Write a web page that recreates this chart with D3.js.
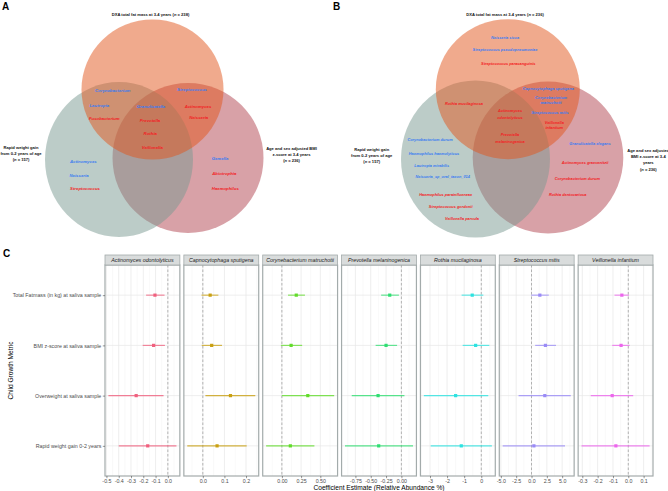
<!DOCTYPE html>
<html><head><meta charset="utf-8">
<script src="https://cdn.jsdelivr.net/npm/d3@7"></script>
<style>
html,body{margin:0;padding:0;background:#fff;}
svg{display:block;font-family:"Liberation Sans",Arial,sans-serif;}
</style></head>
<body><svg id="chart" width="668" height="491"></svg>
<script>
// ---------------- DATA ----------------
const setTitles = ["DXA total fat mass at 3-4 years", "Rapid weight gain|from 0-2 years of age", "Age and sex adjusted BMI|z-score at 3-4 years"];
const setTitlesB = ["DXA total fat mass at 3-4 years", "Rapid weight gain|from 0-2 years of age", "Age and sex adjusted|BMI z-score at 3-4|years"];
const setN_A = [238, 157, 236];
const setN_B = [236, 157, 236];

// Panel A (genus level): [taxon, direction] (-1 = blue, 1 = red)
const vennA_topLeft = [["Corynebacterium", -1], ["Lautropia", -1], ["Fusobacterium", 1]];
const vennA_topRight = [["Streptococcus", -1], ["Actinomyces", 1], ["Neisseria", 1]];
const vennA_center = [["Granulicatella", -1], ["Prevotella", 1], ["Rothia", 1], ["Veillonella", 1]];
const vennA_left = [["Actinomyces", -1], ["Neisseria", -1], ["Streptococcus", 1]];
const vennA_right = [["Gemella", -1], ["Abiotrophia", 1], ["Haemophilus", 1]];

// Panel B (species level)
const vennB_top = [["Neisseria sicca", -1], ["Streptococcus pseudopneumoniae", -1], ["Streptococcus parasanguinis", 1]];
const vennB_topLeft = [["Rothia mucilaginosa", 1]];
const vennB_center = [["Actinomyces|odontolyticus", 1], ["Prevotella|melaninogenica", 1]];
const vennB_topRight = [["Capnocytophaga sputigena", -1], ["Corynebacterium|matruchotii", -1], ["Streptococcus mitis", -1], ["Veillonella|infantium", 1]];
const vennB_left = [["Corynebacterium durum", -1], ["Haemophilus haemolyticus", -1], ["Lautropia mirabilis", -1], ["Neisseria_sp_oral_taxon_014", -1], ["Haemophilus parainfluenzae", 1], ["Streptococcus gordonii", 1], ["Veillonella parvula", 1]];
const vennB_right = [["Granulicatella elegans", -1], ["Actinomyces graevenitzii", 1], ["Corynebacterium durum", 1], ["Rothia dentocariosa", 1]];

// Panel C
const taxa = ["Actinomyces odontolyticus", "Capnocytophaga sputigena", "Corynebacterium matruchotii", "Prevotella melaninogenica", "Rothia mucilaginosa", "Streptococcus mitis", "Veillonella infantium"];
const metrics = ["Total Fatmass (in kg) at saliva sample", "BMI z-score at saliva sample", "Overweight at saliva sample", "Rapid weight gain 0-2 years"];
const estimates = [
  [-0.105, -0.116, -0.258, -0.164],
  [0.034, 0.041, 0.128, 0.066],
  [0.187, 0.12, 0.337, 0.11],
  [-0.19, -0.25, -0.38, -0.37],
  [-0.53, -0.33, -1.5, -1.17],
  [1.36, 2.27, 2.17, 0.39],
  [-0.042, -0.047, -0.105, -0.081]
];
const lowerCI = [
  [-0.177, -0.205, -0.484, -0.40],
  [-0.006, -0.005, 0.012, -0.072],
  [0.08, -0.013, 0.0, -0.205],
  [-0.33, -0.42, -0.81, -0.92],
  [-1.15, -1.09, -3.36, -2.96],
  [-0.05, 0.6, -2.11, -4.7],
  [-0.09, -0.105, -0.245, -0.305]
];
const upperCI = [
  [-0.027, -0.024, -0.035, 0.07],
  [0.072, 0.089, 0.243, 0.203],
  [0.30, 0.264, 0.68, 0.423],
  [-0.04, -0.07, 0.05, 0.19],
  [0.12, 0.47, 0.41, 0.62],
  [2.82, 4.0, 6.4, 5.47],
  [0.005, 0.009, 0.032, 0.139]
];
const xTickLabels = [
  ["-0.5", "-0.4", "-0.3", "-0.2", "-0.1", "0.0"],
  ["0.0", "0.1", "0.2"],
  ["0.00", "0.25", "0.50"],
  ["-0.75", "-0.50", "-0.25", "0.00"],
  ["-3", "-2", "-1", "0"],
  ["-5.0", "-2.5", "0.0", "2.5", "5.0"],
  ["-0.3", "-0.2", "-0.1", "0.0", "0.1"]
];
const taxonColors = ["#F0607E", "#C9A012", "#62DC2A", "#2FDE72", "#2CE2E0", "#9A8BF6", "#EC66EC"];

// ---------------- LAYOUT ----------------
const svg = d3.select("#chart");
const BLUE = "#3B7CF0", RED = "#F21E24";
const dirColor = d => d < 0 ? BLUE : RED;

function panelLetter(t, x, y) {
  svg.append("text").attr("x", x).attr("y", y).text(t)
    .attr("font-size", 10).attr("font-weight", "bold").attr("fill", "#000");
}

function vennCircles(g, circ) {
  const fills = {top: "#E2561C", left: "#7A9A91", right: "#B2434F"};
  ["right", "left", "top"].forEach(k => {
    const c = circ[k];
    g.append("ellipse").attr("cx", c[0]).attr("cy", c[1]).attr("rx", c[2]).attr("ry", c[3])
      .attr("fill", fills[k]).attr("fill-opacity", 0.5);
  });
}

function multiLine(g, text, x, y, lh, opts) {
  const parts = text.split("|");
  const t = g.append("text").attr("x", x).attr("y", y).attr("text-anchor", "middle")
    .attr("font-size", opts.size).attr("font-weight", opts.weight || "normal")
    .attr("font-style", opts.style || "normal").attr("fill", opts.fill || "#000");
  parts.forEach((p, i) => t.append("tspan").attr("x", x).attr("dy", i === 0 ? 0 : lh).text(p));
  return t;
}

function setLabel(g, title, n, x, y, lh, size) {
  const parts = title.split("|");
  const t = g.append("text").attr("x", x).attr("y", y).attr("text-anchor", "middle")
    .attr("font-size", size).attr("font-weight", "bold").attr("fill", "#111");
  if (parts.length === 1) {
    t.append("tspan").text(parts[0] + " (");
    t.append("tspan").attr("font-style", "italic").text("n");
    t.append("tspan").text(" = " + n + ")");
  } else {
    parts.forEach((p, i) => t.append("tspan").attr("x", x).attr("dy", i === 0 ? 0 : lh).text(p));
    t.append("tspan").attr("x", x).attr("dy", lh).text("(");
    t.append("tspan").attr("font-style", "italic").text("n");
    t.append("tspan").text(" = " + n + ")");
  }
}

function placeTaxa(g, list, pos, size, lh) {
  list.forEach((d, i) => {
    multiLine(g, d[0], pos[i][0], pos[i][1], lh, {size: size, weight: "bold", style: "italic", fill: dirColor(d[1])});
  });
}

// ----- Panel A -----
panelLetter("A", 2, 9.5);
const gA = svg.append("g");
vennCircles(gA, {top: [152.5, 89.5, 71, 70], left: [119, 159.5, 74, 77.5], right: [188, 158, 75.5, 75]});
setLabel(gA, setTitles[0], setN_A[0], 150.5, 15.5, 0, 4.1);
setLabel(gA, setTitles[1], setN_A[1], 21, 149.3, 5.7, 4.1);
setLabel(gA, setTitles[2], setN_A[2], 291.5, 149.8, 5.9, 4.1);
const aSize = 4.3;
placeTaxa(gA, vennA_topLeft, [[112.7, 91.5], [99.3, 106.8], [104.3, 119.8]], aSize, 5);
placeTaxa(gA, vennA_topRight, [[192, 90.5], [198, 107.8], [198.7, 119.2]], aSize, 5);
placeTaxa(gA, vennA_center, [[151, 107.8], [150, 121.5], [150.3, 134.8], [152.3, 148.5]], aSize, 5);
placeTaxa(gA, vennA_left, [[83.3, 162.5], [79, 176.5], [85, 189.8]], aSize, 5);
placeTaxa(gA, vennA_right, [[220, 159.8], [224.3, 174.5], [225.3, 189.5]], aSize, 5);

// ----- Panel B -----
panelLetter("B", 333, 9.5);
const gB = svg.append("g");
vennCircles(gB, {top: [507.8, 89.2, 72, 70], left: [475.5, 159, 74.5, 78.5], right: [548, 157.5, 75.3, 76]});
setLabel(gB, setTitlesB[0], setN_B[0], 505, 15.5, 0, 4.1);
setLabel(gB, setTitlesB[1], setN_B[1], 371.7, 150.5, 6.3, 4.1);
setLabel(gB, setTitlesB[2], setN_B[2], 648.3, 152.2, 6.1, 4.1);
const bSize = 3.9;
placeTaxa(gB, vennB_top, [[505, 38.7], [505, 51.4], [508.3, 64.7]], bSize, 5.5);
placeTaxa(gB, vennB_topLeft, [[464, 105.4]], bSize, 5.5);
placeTaxa(gB, vennB_center, [[510, 112.1], [510, 136.4]], bSize, 6.6);
placeTaxa(gB, vennB_topRight, [[548.3, 90.4], [551, 98.7], [550, 114.1], [554.3, 123.7]], bSize, 5.6);
placeTaxa(gB, vennB_left, [[430, 141.4], [434, 154.7], [431.7, 167.1], [442.7, 178.1], [445.7, 196.1], [450.7, 208.4], [462, 220.4]], bSize, 5.5);
placeTaxa(gB, vennB_right, [[590, 145.4], [585, 163.7], [577.3, 180.4], [567.7, 195.7]], bSize, 5.5);

// ----- Panel C -----
panelLetter("C", 3, 256.5);
const plotLeft = 105, plotRight = 653, gap = 4, nP = taxa.length;
const pW = (plotRight - plotLeft - gap * (nP - 1)) / nP;
const stripTop = 255, stripH = 10, pTop = 265, pBot = 476;
const y = d3.scalePoint().domain(metrics).range([pTop, pBot]).padding(0.6);
const gC = svg.append("g");

taxa.forEach((tx, i) => {
  const x0 = plotLeft + i * (pW + gap);
  const vals = lowerCI[i].concat(upperCI[i], estimates[i], [0]);
  const [mn, mx] = d3.extent(vals);
  const pad = (mx - mn) * 0.05;
  const x = d3.scaleLinear().domain([mn - pad, mx + pad]).range([x0, x0 + pW]);
  const majors = xTickLabels[i].map(Number);
  const step = majors[1] - majors[0];
  const minors = [];
  for (let k = -1; k < majors.length; k++) {
    const v = majors[0] + (k + 0.5) * step;
    if (v >= x.domain()[0] && v <= x.domain()[1]) minors.push(v);
  }
  const g = gC.append("g");
  g.append("rect").attr("x", x0).attr("y", pTop).attr("width", pW).attr("height", pBot - pTop).attr("fill", "#fff");
  g.selectAll(".mi").data(minors).join("line")
    .attr("x1", d => x(d)).attr("x2", d => x(d)).attr("y1", pTop).attr("y2", pBot)
    .attr("stroke", "#F2F2F2").attr("stroke-width", 0.5);
  g.selectAll(".ma").data(majors).join("line")
    .attr("x1", d => x(d)).attr("x2", d => x(d)).attr("y1", pTop).attr("y2", pBot)
    .attr("stroke", "#E6E6E6").attr("stroke-width", 0.7);
  g.selectAll(".hy").data(metrics).join("line")
    .attr("x1", x0).attr("x2", x0 + pW).attr("y1", d => y(d)).attr("y2", d => y(d))
    .attr("stroke", "#E6E6E6").attr("stroke-width", 0.7);
  g.append("line").attr("x1", x(0)).attr("x2", x(0)).attr("y1", pTop).attr("y2", pBot)
    .attr("stroke", "#888").attr("stroke-width", 0.6).attr("stroke-dasharray", "2.5,2");
  g.selectAll(".eb").data(metrics).join("line")
    .attr("x1", (d, j) => x(lowerCI[i][j])).attr("x2", (d, j) => x(upperCI[i][j]))
    .attr("y1", d => y(d)).attr("y2", d => y(d))
    .attr("stroke", taxonColors[i]).attr("stroke-width", 1.1).attr("stroke-opacity", 0.8);
  g.selectAll(".pt").data(metrics).join("rect")
    .attr("x", (d, j) => x(estimates[i][j]) - 1.6).attr("y", d => y(d) - 1.6)
    .attr("width", 3.2).attr("height", 3.2).attr("fill", taxonColors[i]);
  g.append("rect").attr("x", x0).attr("y", pTop).attr("width", pW).attr("height", pBot - pTop)
    .attr("fill", "none").attr("stroke", "#A3ABAB").attr("stroke-width", 1.2);
  g.append("rect").attr("x", x0).attr("y", stripTop).attr("width", pW).attr("height", stripH)
    .attr("fill", "#D9DCDC").attr("stroke", "#A3ABAB").attr("stroke-width", 0.8);
  g.append("text").attr("x", x0 + pW / 2).attr("y", stripTop + stripH / 2 + 1.9)
    .attr("text-anchor", "middle").attr("font-size", 5.3).attr("font-style", "italic")
    .attr("fill", "#1A1A1A").text(tx);
  const ax = g.append("g").attr("transform", `translate(0,${pBot})`)
    .call(d3.axisBottom(x).tickValues(majors).tickFormat((d, k) => xTickLabels[i][k]).tickSize(2.2).tickPadding(1.5));
  ax.select(".domain").remove();
  ax.selectAll("line").attr("stroke", "#333").attr("stroke-width", 0.5);
  ax.selectAll("text").attr("font-size", 5.3).attr("fill", "#4D4D4D").attr("font-family", "Liberation Sans, Arial, sans-serif");
});

const ay = gC.append("g").attr("transform", `translate(${plotLeft},0)`)
  .call(d3.axisLeft(y).tickSize(2.2).tickPadding(1.5));
ay.select(".domain").remove();
ay.selectAll("line").attr("stroke", "#333").attr("stroke-width", 0.5);
ay.selectAll("text").attr("font-size", 5.3).attr("fill", "#4D4D4D").attr("font-family", "Liberation Sans, Arial, sans-serif");

gC.append("text").attr("x", (plotLeft + plotRight) / 2).attr("y", 490)
  .attr("text-anchor", "middle").attr("font-size", 6.6).attr("fill", "#000")
  .text("Coefficient Estimate (Relative Abundance %)");
gC.append("text").attr("transform", `translate(13,${(pTop + pBot) / 2}) rotate(-90)`)
  .attr("text-anchor", "middle").attr("font-size", 6.6).attr("fill", "#000")
  .text("Child Growth Metric");
</script></body></html>
